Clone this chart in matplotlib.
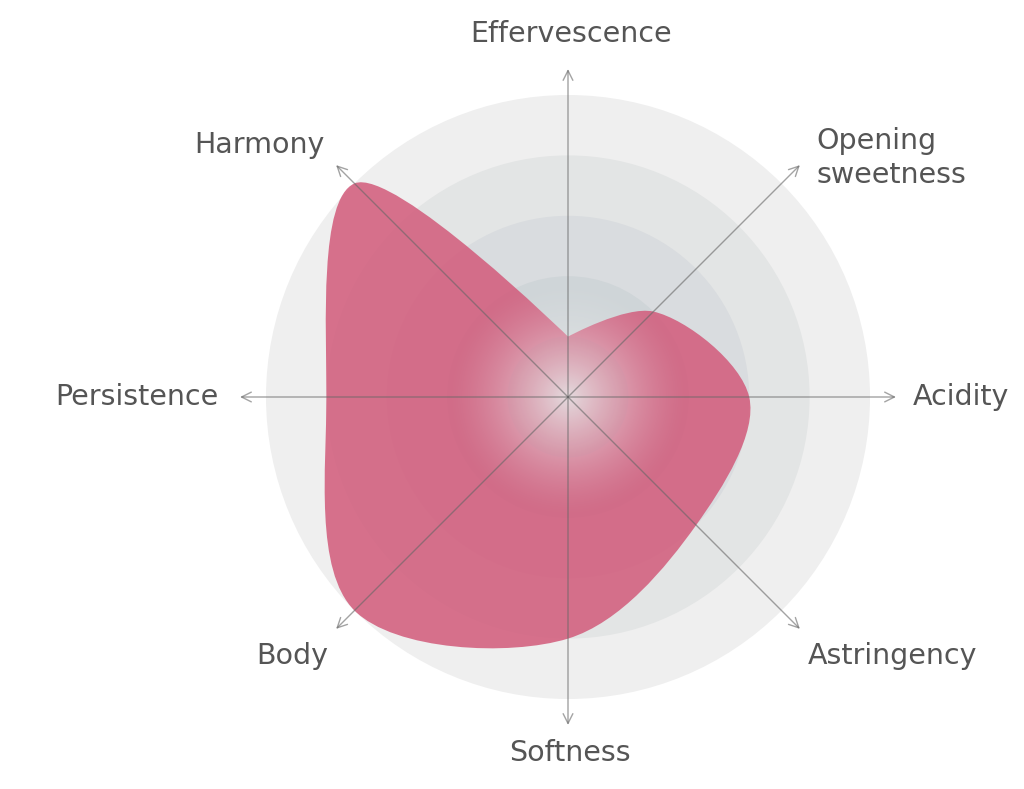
import numpy as np
import matplotlib
matplotlib.use("Agg")
import matplotlib.pyplot as plt
from matplotlib.path import Path
from matplotlib.patches import PathPatch, Circle

# ---- data ----
labels = ["Effervescence", "Opening\nsweetness", "Acidity", "Astringency",
          "Softness", "Body", "Persistence", "Harmony"]
values = [1, 2, 3, 3, 4, 5, 4, 5]
levels = [2, 3, 4, 5]
ring_colors = ["#cfd5d8", "#d9dcdf", "#e3e5e5", "#efefef"]  # levels 2..5

plt.rcParams['font.family'] = ['DejaVu Sans']

W, H = 1024, 789
cx, cy = 568, 397          # centre in pixels
unit = 60.4                # pixels per level

fig = plt.figure(figsize=(W / 100, H / 100), dpi=100)
ax = fig.add_axes([0, 0, 1, 1])
ax.set_xlim(-cx / unit, (W - cx) / unit)
ax.set_ylim(-(H - cy) / unit, cy / unit)
ax.set_aspect('equal')
ax.axis('off')

# rings, largest first
for lv, col in zip(levels[::-1], ring_colors[::-1]):
    ax.add_patch(Circle((0, 0), lv, facecolor=col, edgecolor='none', zorder=1))

# angles: start at top, clockwise
N = len(values)
ang = np.pi / 2 - np.arange(N) * 2 * np.pi / N
pts = np.column_stack([np.array(values) * np.cos(ang), np.array(values) * np.sin(ang)])
# line closed by repeating the first point (gives the corner at the top)
pts = np.vstack([pts, pts[:1]])
M = len(pts)


# closed centripetal catmull-rom (d3 curveCatmullRomClosed, alpha=0.5)
def seg(p0, p1, p2, p3, alpha=0.5, eps=1e-9):
    l01 = np.linalg.norm(p1 - p0) ** alpha
    l12 = np.linalg.norm(p2 - p1) ** alpha
    l23 = np.linalg.norm(p3 - p2) ** alpha
    c1, c2 = p1.copy(), p2.copy()
    if l01 > eps:
        a = 2 * l01 ** 2 + 3 * l01 * l12 + l12 ** 2
        n = 3 * l01 * (l01 + l12)
        c1 = (p1 * a - p0 * l12 ** 2 + p2 * l01 ** 2) / n
    if l23 > eps:
        b = 2 * l23 ** 2 + 3 * l23 * l12 + l12 ** 2
        m = 3 * l23 * (l23 + l12)
        c2 = (p2 * b + p1 * l23 ** 2 - p3 * l12 ** 2) / m
    return c1, c2


verts = [tuple(pts[0])]
codes = [Path.MOVETO]
for i in range(M):
    p0, p1, p2, p3 = pts[i - 1], pts[i], pts[(i + 1) % M], pts[(i + 2) % M]
    c1, c2 = seg(p0, p1, p2, p3)
    verts += [tuple(c1), tuple(c2), tuple(p2)]
    codes += [Path.CURVE4] * 3
verts.append(tuple(pts[0]))
codes.append(Path.CLOSEPOLY)
ax.add_patch(PathPatch(Path(verts, codes), facecolor='#d25a7a', edgecolor='none',
                       alpha=0.85, zorder=3))

# white glow in the middle
n = 400
g = np.linspace(-2.2, 2.2, n)
gx, gy = np.meshgrid(g, g)
rr = np.sqrt(gx ** 2 + gy ** 2)
img = np.ones((n, n, 4))
img[..., :3] = 0.93
img[..., 3] = np.clip(1 - rr / 2.0, 0, 1) ** 1.5 * 0.9
im = ax.imshow(img, extent=(-2.2, 2.2, -2.2, 2.2), zorder=3.5, interpolation='bilinear')
im.set_clip_path(Circle((0, 0), 2.0, transform=ax.transData))
ax.add_patch(Circle((0, 0), 1, facecolor='#b0a0a8', edgecolor='none', alpha=0.08, zorder=3.6))

# axes with arrows
alen = 5.43
for a in ang:
    ax.annotate('', xy=(alen * np.cos(a), alen * np.sin(a)), xytext=(0, 0),
                arrowprops=dict(arrowstyle='->,head_length=0.7,head_width=0.35',
                                color='#666666', alpha=0.6, lw=1.0,
                                shrinkA=0, shrinkB=0),
                zorder=4)

# labels (pixel positions relative to centre)
lab_pos = [(571, 34, 'center'), (816, 158, 'left'), (913, 397, 'left'),
           (808, 656, 'left'), (570, 753, 'center'), (328, 656, 'right'),
           (218, 397, 'right'), (325, 145, 'right')]
for lab, (lx, ly, ha) in zip(labels, lab_pos):
    ax.text((lx - cx) / unit, (cy - ly) / unit, lab, ha=ha, va='center',
            fontsize=20.5, color='#555555', linespacing=1.3)

fig.savefig('out.png', dpi=100)
